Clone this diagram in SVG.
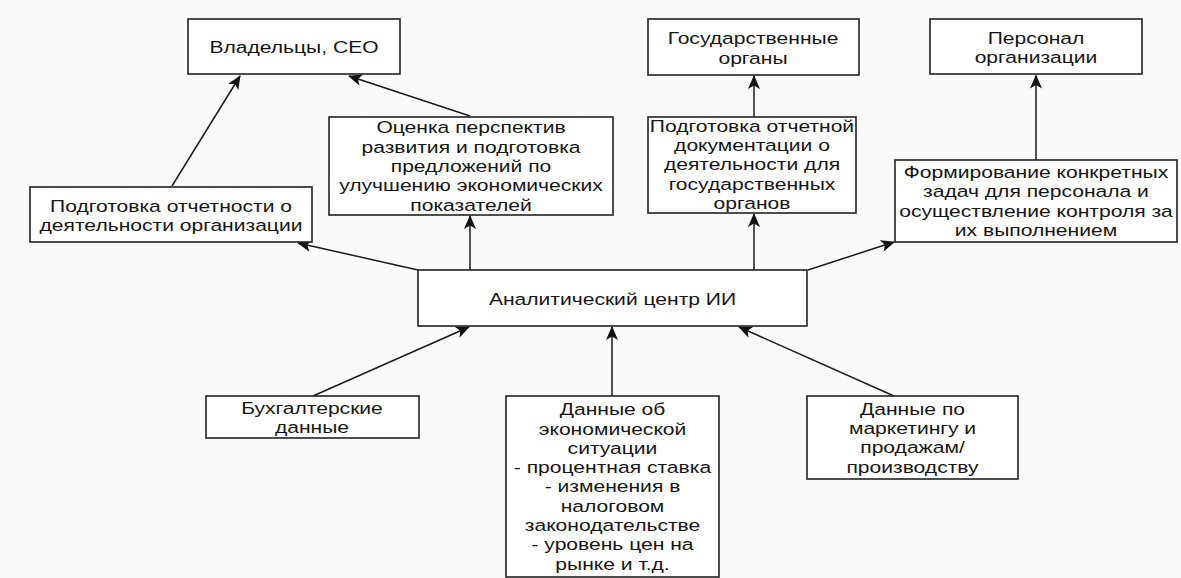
<svg xmlns="http://www.w3.org/2000/svg" width="1181" height="578" viewBox="0 0 1181 578">
<defs>
<marker id="ah" markerUnits="userSpaceOnUse" markerWidth="14" markerHeight="12" viewBox="0 0 14 12" refX="13" refY="6" orient="auto">
<path d="M0,0 L14,6 L0,12 L3.5,6 z" fill="#111"/>
</marker>
<style>
.box{fill:#fff;stroke:#222;stroke-width:1.6}
.t{font-family:"Liberation Sans",Arial,sans-serif;font-size:17px;fill:#151515;text-anchor:middle}
.c{stroke:#1a1a1a;stroke-width:1.5;fill:none;marker-end:url(#ah)}
</style>
</defs>
<rect x="0" y="0" width="1181" height="578" fill="#fafafa"/>
<g id="connectors">
<line class="c" x1="172" y1="186" x2="240" y2="76"/>
<line class="c" x1="470" y1="116" x2="349" y2="76"/>
<line class="c" x1="418" y1="270" x2="298" y2="243"/>
<line class="c" x1="470" y1="270" x2="470" y2="216"/>
<line class="c" x1="754" y1="270" x2="754" y2="214"/>
<line class="c" x1="754" y1="117" x2="754" y2="76"/>
<line class="c" x1="808" y1="270" x2="894" y2="242"/>
<line class="c" x1="1036" y1="160" x2="1036" y2="75.5"/>
<line class="c" x1="313" y1="396" x2="469" y2="327"/>
<line class="c" x1="612" y1="396" x2="612" y2="327"/>
<line class="c" x1="894" y1="396" x2="739" y2="327"/>
</g>
<g id="owners">
<rect class="box" x="188" y="19" width="212" height="55"/>
<text class="t" transform="matrix(1.24 0 0 1 294 0)"><tspan x="0" y="53.5">Владельцы, СЕО</tspan></text>
</g>
<g id="report">
<rect class="box" x="30" y="187" width="282" height="55"/>
<text class="t" transform="matrix(1.24 0 0 1 171 0)"><tspan x="0" y="212">Подготовка отчетности о</tspan><tspan x="0" y="231.2">деятельности организации</tspan></text>
</g>
<g id="assessment">
<rect class="box" x="329" y="117" width="284" height="98"/>
<text class="t" transform="matrix(1.24 0 0 1 471 0)"><tspan x="0" y="133.5">Оценка перспектив</tspan><tspan x="0" y="152.8">развития и подготовка</tspan><tspan x="0" y="172">предложений по</tspan><tspan x="0" y="191.3">улучшению экономических</tspan><tspan x="0" y="210.6">показателей</tspan></text>
</g>
<g id="gov">
<rect class="box" x="648" y="19" width="211" height="56"/>
<text class="t" transform="matrix(1.24 0 0 1 753 0)"><tspan x="0" y="44.3">Государственные</tspan><tspan x="0" y="63.6">органы</tspan></text>
</g>
<g id="gov-docs">
<rect class="box" x="648" y="117" width="208" height="96"/>
<text class="t" transform="matrix(1.24 0 0 1 752 0)"><tspan x="0" y="132">Подготовка отчетной</tspan><tspan x="0" y="151.2">документации о</tspan><tspan x="0" y="170.4">деятельности для</tspan><tspan x="0" y="189.6">государственных</tspan><tspan x="0" y="208.8">органов</tspan></text>
</g>
<g id="staff">
<rect class="box" x="930" y="19" width="212" height="55"/>
<text class="t" transform="matrix(1.24 0 0 1 1036 0)"><tspan x="0" y="44.3">Персонал</tspan><tspan x="0" y="63.5">организации</tspan></text>
</g>
<g id="tasks">
<rect class="box" x="895" y="160" width="282" height="82"/>
<text class="t" transform="matrix(1.24 0 0 1 1036 0)"><tspan x="0" y="178.2">Формирование конкретных</tspan><tspan x="0" y="197.4">задач для персонала и</tspan><tspan x="0" y="216.6">осуществление контроля за</tspan><tspan x="0" y="235.8">их выполнением</tspan></text>
</g>
<g id="center">
<rect class="box" x="418" y="270" width="389" height="56"/>
<text class="t" transform="matrix(1.24 0 0 1 612.5 0)"><tspan x="0" y="305">Аналитический центр ИИ</tspan></text>
</g>
<g id="accounting">
<rect class="box" x="206" y="396" width="213" height="42"/>
<text class="t" transform="matrix(1.24 0 0 1 312 0)"><tspan x="0" y="414">Бухгалтерские</tspan><tspan x="0" y="433">данные</tspan></text>
</g>
<g id="economy">
<rect class="box" x="506" y="396" width="213" height="181"/>
<text class="t" transform="matrix(1.24 0 0 1 612.5 0)"><tspan x="0" y="415.3">Данные об</tspan><tspan x="0" y="434.6">экономической</tspan><tspan x="0" y="453.9">ситуации</tspan><tspan x="0" y="473.2">- процентная ставка</tspan><tspan x="0" y="492.5">- изменения в</tspan><tspan x="0" y="511.8">налоговом</tspan><tspan x="0" y="531.1">законодательстве</tspan><tspan x="0" y="550.4">- уровень цен на</tspan><tspan x="0" y="569.7">рынке и т.д.</tspan></text>
</g>
<g id="marketing">
<rect class="box" x="807" y="396" width="211" height="83"/>
<text class="t" transform="matrix(1.24 0 0 1 912.5 0)"><tspan x="0" y="415">Данные по</tspan><tspan x="0" y="434.2">маркетингу и</tspan><tspan x="0" y="453.4">продажам/</tspan><tspan x="0" y="472.6">производству</tspan></text>
</g>
</svg>
